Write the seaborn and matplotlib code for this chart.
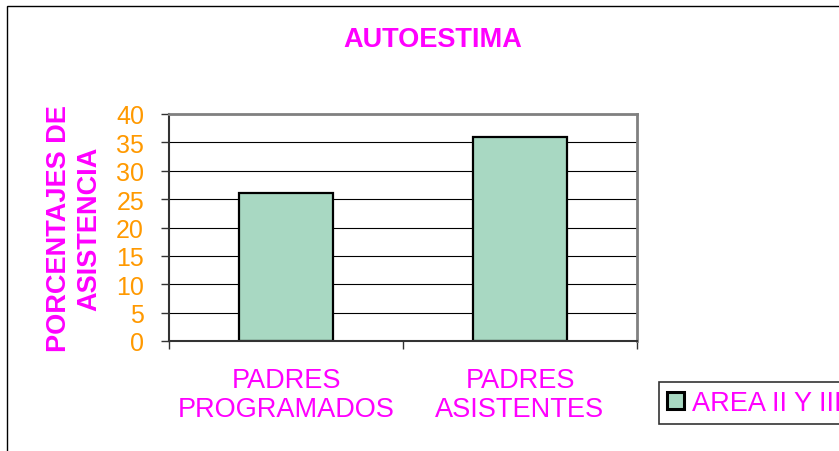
import matplotlib
matplotlib.use("Agg")
import matplotlib.pyplot as plt
import seaborn as sns
import pandas as pd
from matplotlib.patches import Patch, Rectangle

# data
categorias = ["PADRES\nPROGRAMADOS", "PADRES\nASISTENTES"]
porcentajes = [26, 36]
serie = "AREA II Y III"
y_ticks = [0, 5, 10, 15, 20, 25, 30, 35, 40]

MAGENTA = "#FF00FF"
ORANGE = "#FF9900"
BAR_COLOR = "#A8D8C2"

sns.set_style("white")
plt.rcParams["font.family"] = ["Liberation Sans", "DejaVu Sans"]

df = pd.DataFrame({"categoria": categorias, "porcentaje": porcentajes})

fig = plt.figure(figsize=(8.39, 4.52), dpi=100)
ax = fig.add_axes([169 / 839, 1 - 342 / 452, (637 - 169) / 839, (342 - 115) / 452])

sns.barplot(data=df, x="categoria", y="porcentaje", color=BAR_COLOR,
            saturation=1, width=0.4, edgecolor="black", linewidth=1.6, ax=ax)

ax.set_xlim(-0.5, 1.5)
ax.set_ylim(0, 40)
ax.set_yticks(y_ticks)
ax.yaxis.grid(True, color="black", linewidth=0.8)
ax.set_axisbelow(True)

# ticks at category boundaries, labels at centres
ax.set_xticks([-0.5, 0.5, 1.5], minor=True)
ax.tick_params(axis="x", which="major", length=0, pad=19, labelsize=19.5,
               labelcolor=MAGENTA)
ax.tick_params(axis="x", which="minor", length=6, width=1, color="#333333",
               direction="out", bottom=True)
ax.tick_params(axis="y", length=6, width=1, color="#333333", direction="out",
               left=True, labelsize=18, labelcolor=ORANGE, pad=12)
for lbl in ax.get_xticklabels():
    lbl.set_linespacing(1.15)

for side in ["left", "bottom"]:
    ax.spines[side].set_color("#333333")
    ax.spines[side].set_linewidth(1.5)
for side in ["top", "right"]:
    ax.spines[side].set_color("#808080")
    ax.spines[side].set_linewidth(2)

ax.set_xlabel("")
ax.set_ylabel("PORCENTAJES DE\nASISTENCIA", color=MAGENTA, fontsize=19.5,
              fontweight="bold", linespacing=1.2, labelpad=10)

fig.text(433 / 839, 1 - 40 / 452, "AUTOESTIMA", color=MAGENTA, fontsize=19.5,
         fontweight="bold", ha="center", va="center")

# outer chart frame (runs off the right and bottom of the image)
fig.add_artist(Rectangle((7 / 839, -0.2), 2, 1.2 - 7 / 452,
                         transform=fig.transFigure, fill=False,
                         edgecolor="black", linewidth=1))

handle = Patch(facecolor=BAR_COLOR, edgecolor="black", linewidth=2.2)
leg = fig.legend(handles=[handle], labels=[serie], loc="upper left",
                 bbox_to_anchor=(659 / 839, 1 - 383 / 452), borderaxespad=0,
                 fancybox=False, framealpha=1, edgecolor="#333333",
                 fontsize=19.5, handlelength=0.62, handleheight=0.62,
                 handletextpad=0.3, borderpad=0.3)
leg.get_frame().set_linewidth(1.2)
for t in leg.get_texts():
    t.set_color(MAGENTA)

fig.savefig("out.png", dpi=100)
